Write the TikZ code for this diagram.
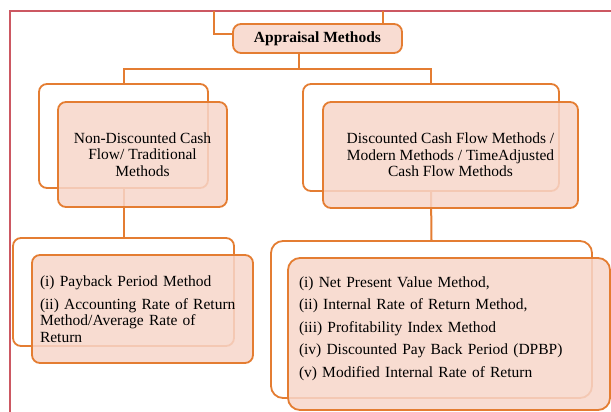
\documentclass[tikz,border=0pt]{standalone}
\usepackage{fontspec}
\setmainfont{Liberation Serif}
\definecolor{frame}{RGB}{204,88,98}
\definecolor{edge}{RGB}{228,125,50}
\definecolor{shade}{RGB}{247,214,202}

\begin{document}
\begin{tikzpicture}[x=1pt,y=-1pt,
    back/.style={draw=edge,line width=1.8pt,rounded corners=8pt,fill=white,inner sep=0pt},
    front/.style={draw=edge,line width=1.8pt,rounded corners=8pt,fill=shade,fill opacity=.85,
      draw opacity=1,text opacity=1,inner sep=0pt,font=\fontsize{15.5}{16.5}\selectfont},
    link/.style={draw=edge,line width=2pt}]
  \useasboundingbox (0,0) rectangle (611,412);
  % outer frame
  \draw[frame,line width=2.4pt] (10,412) -- (10,11) -- (611,11);
  % top level
  \node[front,minimum width=169pt,minimum height=29pt,font=\fontsize{15.5}{16.5}\selectfont\bfseries]
    (app) at (317.5,38.5) {Appraisal Methods};
  \coordinate (topA) at (214,11);
  \coordinate (topB) at (383,11);
  \draw[link] (topA) |- ([yshift=4.5pt]app.west);
  \draw[link] (topB) -- (topB |- app.north);
  % second level
  \node[back,minimum width=169pt,minimum height=104pt] (ncfback) at (123.5,136) {};
  \node[back,minimum width=256pt,minimum height=107pt] (dcfback) at (431,137.5) {};
  \coordinate (fork) at (299,69.5);
  \draw[link] (app.south -| fork) -- (fork);
  \draw[link] (ncfback.north) |- (fork) -| (dcfback.north);
  % third level
  \node[back,minimum width=221pt,minimum height=108pt] (ncflistback) at (123.5,292) {};
  \node[back,minimum width=321pt,minimum height=157pt,rounded corners=12pt] (dcflistback) at (431.5,319.5) {};
  \draw[link] (ncfback.south) -- (ncflistback.north);
  \draw[link] (dcfback.south) -- (dcflistback.north);
  % front boxes
  \node[front,minimum width=169pt,minimum height=105pt,align=center] (ncf) at (142.5,154.5)
    {Non-Discounted Cash\\Flow/ Traditional\\Methods};
  \node[front,minimum width=255pt,minimum height=106pt,align=center] (dcf) at (450.5,155)
    {Discounted Cash Flow Methods /\\Modern Methods / TimeAdjusted\\Cash Flow Methods};
  \node[front,minimum width=221pt,minimum height=108pt,text width=205pt,align=left]
    (ncflist) at (142.5,309)
    {(i) Payback Period Method\\[6pt](ii) Accounting Rate of Return\\Method/Average Rate of\\Return};
  \node[front,minimum width=322pt,minimum height=152pt,text width=300pt,align=left,
    rounded corners=12pt] (dcflist) at (449,334)
    {(i) Net Present Value Method,\\[6pt](ii) Internal Rate of Return Method,\\[6pt]%
     (iii) Profitability Index Method\\[6pt](iv) Discounted Pay Back Period (DPBP)\\[6pt]%
     (v) Modified Internal Rate of Return\\[-2pt]\mbox{}};
\end{tikzpicture}
\end{document}
